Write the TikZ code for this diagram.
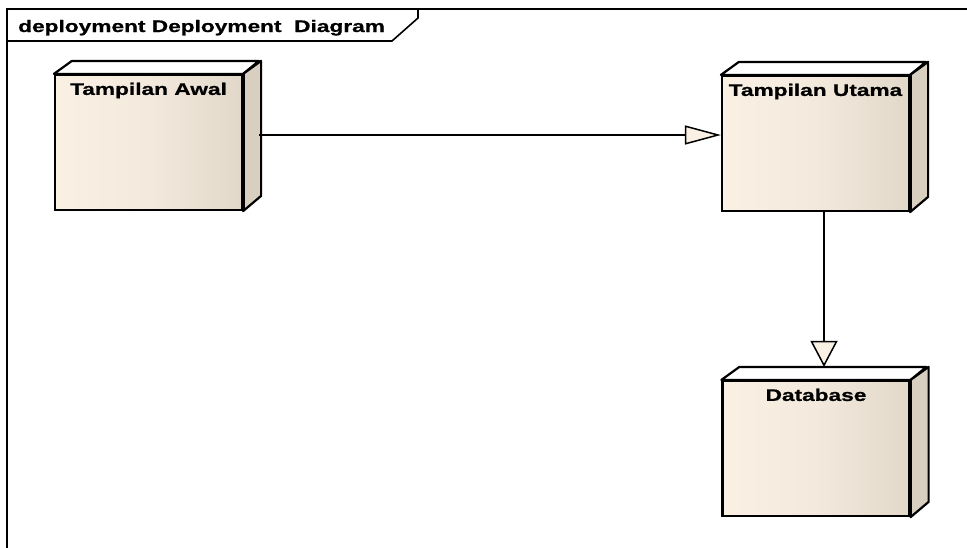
\documentclass[tikz,border=0pt]{standalone}
\usepackage{fontspec}
\usetikzlibrary{arrows.meta,calc}
\newfontfamily\umlfont[FakeStretch=1.35, BoldFeatures={FakeBold=0.8}]{Liberation Sans}
\definecolor{nodeleft}{HTML}{FAF0E4}
\definecolor{noderight}{HTML}{E2D8CA}
\definecolor{nodeside}{HTML}{D8CFC0}
\definecolor{tipfill}{HTML}{FAF0E4}
\tikzset{
  umltext/.style={font=\umlfont\fontsize{16.8}{18}\selectfont\bfseries, inner sep=0pt},
  front/.style={draw=black, line width=2.2pt, minimum width=187pt, minimum height=135pt,
    inner sep=0pt, left color=nodeleft, right color=noderight, middle color=nodeleft!70!noderight},
  face/.style={draw=black, line width=2.2pt, line join=round},
  link/.style={draw=black, line width=1.5pt},
}
% a UML deployment node: front face, top face, side face
\newcommand{\depnode}[3]{%
  \node[front] (#1) at (#2) {};
  \filldraw[face, fill=white] (#1.north west) -- ++(18,-13) -- ++(187,0) -- (#1.north east) -- cycle;
  \filldraw[face, fill=nodeside] (#1.north east) -- ++(18,-13) -- ++(0,135) -- (#1.south east) -- cycle;
  \draw[line width=3.2pt] (#1.north east) -- (#1.south east);
  \node[umltext, anchor=base] (#1-name) at ([yshift=-21pt]#1.north) {#3};
}
\begin{document}
\begin{tikzpicture}[x=1pt, y=-1pt]
  \useasboundingbox (0,0) rectangle (967,547);
  % diagram frame and title tab
  \draw[line width=2.2pt] (7,548) -- (7,9) -- (968,9);
  \draw[line width=1.6pt] (7,41) -- (392,41) -- (418,18) -- (418,9);
  \node[umltext, anchor=base west] (frametitle) at (18,32) {deployment Deployment\ \ Diagram};

  \depnode{awal}{148.5,142.5}{Tampilan Awal}
  \depnode{utama}{815.5,143.5}{Tampilan Utama}
  \depnode{db}{816,448.5}{Database}

  % connectors
  \coordinate (awalout) at ($(awal.east)+(16,-7.5)$);
  \draw[link, -{Triangle[length=36pt, width=19pt, open, fill=tipfill]}]
    (awalout) -- (awalout -| utama.west);
  \coordinate (utamaout) at ($(utama.south)+(8.5,0)$);
  \coordinate (dbtop) at ($(db.north)+(0,-13)$);
  \draw[link, -{Triangle[length=26pt, width=27pt, open, fill=tipfill]}]
    (utamaout) -- (utamaout |- dbtop);
\end{tikzpicture}
\end{document}
